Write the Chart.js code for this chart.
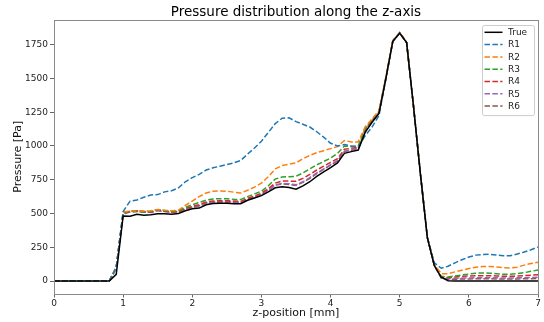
<!DOCTYPE html>
<html>
<head>
<meta charset="utf-8">
<script src="https://cdn.jsdelivr.net/npm/chart.js@4/dist/chart.umd.min.js"></script>
<style>
    html, body { margin: 0; padding: 0; background: #fff; }
    #chart { display: block; }
</style>
</head>
<body>
<canvas id="chart" width="544" height="322"></canvas>
<script>
// z positions [mm]
const zPos = [
    0.0, 0.1, 0.2, 0.3, 0.4, 0.5, 0.6, 0.7, 0.8, 0.9,
    1.0, 1.1, 1.2, 1.3, 1.4, 1.5, 1.6, 1.7, 1.8, 1.9,
    2.0, 2.1, 2.2, 2.3, 2.4, 2.5, 2.6, 2.7, 2.8, 2.9,
    3.0, 3.1, 3.2, 3.3, 3.4, 3.5, 3.6, 3.7, 3.8, 3.9,
    4.0, 4.1, 4.2, 4.3, 4.4, 4.5, 4.6, 4.7, 4.8, 4.9,
    5.0, 5.1, 5.2, 5.3, 5.4, 5.5, 5.6, 5.7, 5.8, 5.9,
    6.0, 6.1, 6.2, 6.3, 6.4, 6.5, 6.6, 6.7, 6.8, 6.9, 7.0,
];

const trueP = [
    0, 0, 0, 0, 0, 0, 0, 0, 0, 50,
    482, 480, 494, 488, 490, 498, 498, 494, 500, 520,
    535, 540, 565, 574, 576, 576, 573, 572, 598, 615,
    632, 660, 690, 698, 692, 680, 705, 735, 775, 808,
    840, 875, 945, 958, 970, 1100, 1175, 1240, 1500, 1775,
    1835, 1765, 1290, 790, 320, 115, 28, 3, 0, 0,
    0, 0, 0, 0, 0, 0, 0, 0, 0, 0, 0,
];
const r1 = [
    0, 0, 0, 0, 0, 0, 0, 0, 0, 100,
    515, 592, 600, 620, 637, 640, 660, 668, 690, 735,
    765, 790, 822, 838, 850, 862, 875, 892, 940, 985,
    1035, 1100, 1165, 1205, 1208, 1180, 1160, 1140, 1105, 1065,
    1020, 1000, 1010, 1000, 995, 1075, 1140, 1225, 1495, 1770,
    1835, 1765, 1290, 790, 325, 135, 95, 110, 135, 158,
    178, 192, 197, 198, 193, 187, 188, 200, 215, 232, 252,
];
const r2 = [
    0, 0, 0, 0, 0, 0, 0, 0, 0, 100,
    512, 518, 518, 518, 520, 530, 525, 520, 525, 560,
    592, 625, 652, 665, 667, 665, 658, 652, 672, 695,
    725, 772, 830, 855, 865, 875, 905, 930, 950, 965,
    980, 995, 1040, 1030, 1030, 1140, 1200, 1260, 1510, 1780,
    1840, 1765, 1295, 795, 325, 125, 55, 55, 68, 80,
    93, 103, 108, 108, 104, 99, 97, 103, 118, 130, 140,
];
const r3 = [
    0, 0, 0, 0, 0, 0, 0, 0, 0, 100,
    505, 515, 515, 512, 515, 528, 520, 515, 520, 545,
    565, 582, 598, 608, 610, 610, 605, 603, 625, 645,
    665, 705, 755, 770, 772, 775, 800, 830, 860, 885,
    910, 945, 1000, 995, 1000, 1130, 1195, 1255, 1505, 1778,
    1838, 1765, 1292, 792, 322, 120, 35, 30, 38, 45,
    52, 58, 60, 58, 55, 50, 50, 55, 62, 72, 82,
];
const r4 = [
    0, 0, 0, 0, 0, 0, 0, 0, 0, 100,
    500, 515, 520, 515, 512, 525, 518, 512, 515, 538,
    552, 565, 585, 592, 595, 595, 592, 590, 612, 630,
    650, 685, 725, 740, 740, 738, 760, 790, 822, 850,
    878, 905, 975, 983, 990, 1125, 1190, 1250, 1502, 1776,
    1837, 1765, 1291, 791, 321, 118, 30, 25, 30, 35,
    38, 40, 40, 40, 38, 36, 35, 37, 40, 43, 47,
];
const r5 = [
    0, 0, 0, 0, 0, 0, 0, 0, 0, 95,
    495, 510, 515, 510, 508, 520, 514, 508, 512, 532,
    548, 558, 578, 585, 588, 588, 585, 582, 605, 622,
    642, 675, 712, 722, 720, 712, 735, 765, 800, 830,
    862, 892, 962, 972, 982, 1120, 1188, 1248, 1501, 1776,
    1836, 1765, 1291, 791, 321, 117, 25, 18, 20, 22,
    23, 24, 25, 25, 24, 23, 23, 24, 25, 27, 28,
];
const r6 = [
    0, 0, 0, 0, 0, 0, 0, 0, 0, 100,
    500, 518, 518, 512, 510, 525, 516, 510, 512, 532,
    546, 556, 576, 582, 585, 585, 582, 580, 603, 620,
    640, 672, 710, 718, 715, 708, 730, 760, 795, 826,
    858, 888, 958, 968, 980, 1118, 1186, 1246, 1500, 1775,
    1836, 1765, 1291, 791, 321, 117, 22, 12, 14, 15,
    16, 17, 17, 17, 16, 15, 15, 16, 17, 18, 20,
];

const seriesNames = ["True", "R1", "R2", "R3", "R4", "R5", "R6"];
const seriesValues = [trueP, r1, r2, r3, r4, r5, r6];
const seriesColors = ["#000000", "#1f77b4", "#ff7f0e", "#2ca02c", "#d62728", "#9467bd", "#8c564b"];

const xTicks = [0, 1, 2, 3, 4, 5, 6, 7];
const yTicks = [0, 250, 500, 750, 1000, 1250, 1500, 1750];

const FONT = "DejaVu Sans";

const frameAndTitle = {
    id: "frameAndTitle",
    afterDatasetsDraw: (chart) => {
        const { ctx, chartArea } = chart;
        ctx.save();
        ctx.strokeStyle = "#8a8a8a";
        ctx.lineWidth = 1;
        ctx.strokeRect(
            Math.round(chartArea.left) + 0.5,
            Math.round(chartArea.top) + 0.5,
            Math.round(chartArea.right - chartArea.left),
            Math.round(chartArea.bottom - chartArea.top)
        );
        ctx.fillStyle = "#000";
        ctx.font = "13.5px '" + FONT + "'";
        ctx.textAlign = "center";
        ctx.textBaseline = "middle";
        ctx.fillText("Pressure distribution along the z-axis", (chartArea.left + chartArea.right) / 2, 12);
        ctx.restore();
    },
};

const boxLegend = {
    id: "boxLegend",
    afterDraw: (chart) => {
        const { ctx, chartArea } = chart;
        const sets = chart.data.datasets;
        const w = 52;
        const rowH = 12.3;
        const h = sets.length * rowH + 4;
        const x0 = chartArea.right - 4.5 - w;
        const y0 = chartArea.top + 4.5;
        ctx.save();
        ctx.fillStyle = "rgba(255,255,255,0.8)";
        ctx.strokeStyle = "#cccccc";
        ctx.lineWidth = 1;
        ctx.beginPath();
        ctx.roundRect(Math.round(x0) + 0.5, Math.round(y0) + 0.5, w, h, 2);
        ctx.fill();
        ctx.stroke();
        ctx.font = "9px '" + FONT + "'";
        ctx.textBaseline = "middle";
        ctx.textAlign = "left";
        sets.forEach((ds, i) => {
            const y = y0 + 7.8 + i * rowH;
            ctx.strokeStyle = ds.borderColor;
            ctx.lineWidth = ds.borderWidth;
            ctx.setLineDash(ds.borderDash || []);
            ctx.beginPath();
            ctx.moveTo(x0 + 3, y);
            ctx.lineTo(x0 + 21, y);
            ctx.stroke();
            ctx.setLineDash([]);
            ctx.fillStyle = "#222";
            ctx.fillText(ds.label, x0 + 26.5, y + 0.5);
        });
        ctx.restore();
    },
};

const datasets = seriesNames.map((name, i) => ({
    label: name,
    data: zPos.map((z, j) => ({ x: z, y: seriesValues[i][j] })),
    borderColor: seriesColors[i],
    backgroundColor: seriesColors[i],
    borderWidth: 1.5,
    borderDash: i === 0 ? [] : [5.5, 2.4],
    pointRadius: 0,
    tension: 0,
    fill: false,
}));

new Chart(document.getElementById("chart"), {
    type: "line",
    data: { datasets: datasets },
    options: {
        responsive: false,
        animation: false,
        devicePixelRatio: 1,
        layout: { padding: { left: 0, right: 6, top: 20, bottom: 0 } },
        plugins: {
            legend: { display: false },
            tooltip: { enabled: false },
            title: { display: false },
        },
        scales: {
            x: {
                type: "linear",
                min: 0,
                max: 7,
                afterBuildTicks: (axis) => {
                    axis.ticks = xTicks.map((v) => ({ value: v }));
                },
                afterFit: (axis) => {
                    axis.height = 28.5;
                },
                grid: {
                    display: true,
                    drawOnChartArea: false,
                    drawTicks: true,
                    tickLength: 4,
                    color: "#666",
                },
                border: { display: false },
                ticks: {
                    padding: 1,
                    maxRotation: 0,
                    color: "#222",
                    font: { family: FONT, size: 9 },
                    callback: (v) => String(v),
                },
                title: {
                    display: true,
                    text: "z-position [mm]",
                    color: "#111",
                    font: { family: FONT, size: 11 },
                    padding: { top: 0, bottom: 2 },
                },
            },
            y: {
                min: -92,
                max: 1932,
                afterBuildTicks: (axis) => {
                    axis.ticks = yTicks.map((v) => ({ value: v }));
                },
                afterFit: (axis) => {
                    axis.width = 54;
                },
                grid: {
                    display: true,
                    drawOnChartArea: false,
                    drawTicks: true,
                    tickLength: 4,
                    color: "#666",
                },
                border: { display: false },
                ticks: {
                    padding: 2,
                    color: "#222",
                    font: { family: FONT, size: 9 },
                    callback: (v) => String(v),
                },
                title: {
                    display: true,
                    text: "Pressure [Pa]",
                    color: "#111",
                    font: { family: FONT, size: 11 },
                    padding: { top: 12, bottom: 0 },
                },
            },
        },
    },
    plugins: [frameAndTitle, boxLegend],
});
</script>
</body>
</html>
